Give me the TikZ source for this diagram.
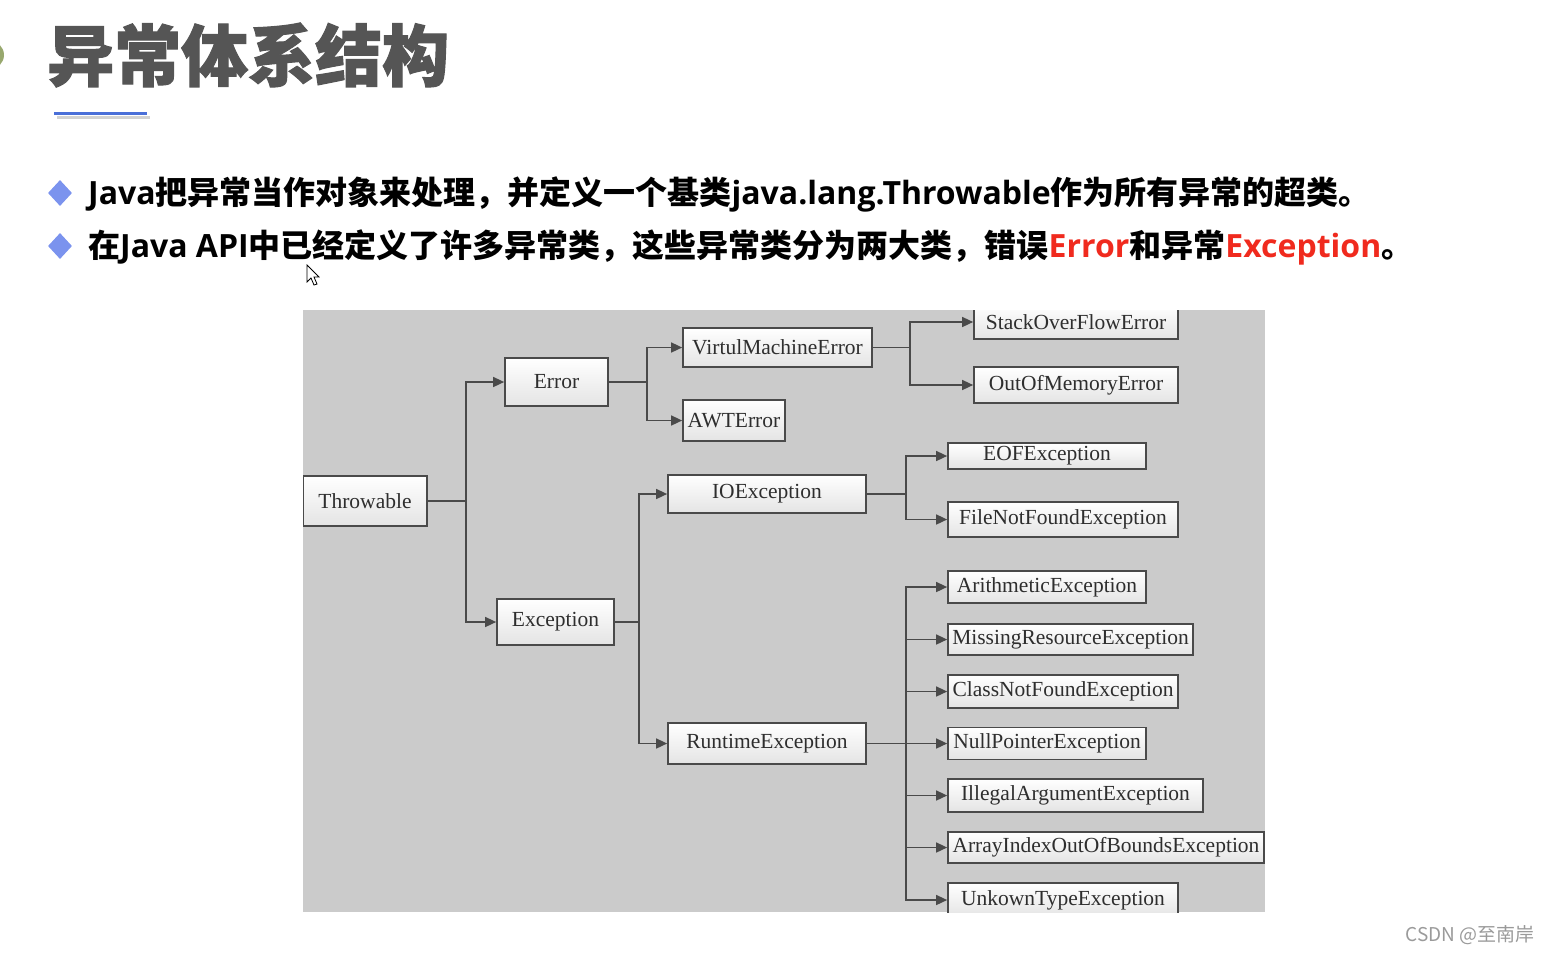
\documentclass[tikz,border=0pt]{standalone}
\usepackage{fontspec}
\setmainfont{Liberation Serif}
\newfontfamily\cjkfont{Noto Sans CJK SC}
\newfontfamily\cjkheavy{Noto Sans CJK SC}[FakeBold=1.5]
\newfontfamily\latfont{Open Sans}
\usetikzlibrary{arrows.meta,shapes.geometric}

\definecolor{titlegray}{HTML}{555555}
\definecolor{lineblue}{HTML}{4A6FD8}
\definecolor{bulletblue}{HTML}{7B93EE}
\definecolor{errred}{HTML}{F02A1E}
\definecolor{diagbg}{HTML}{CBCBCB}
\definecolor{linegray}{HTML}{4A4A4A}
\definecolor{textgray}{HTML}{2E2E2E}
\definecolor{boxbottom}{HTML}{E4E4E4}
\definecolor{leafgreen}{HTML}{98A86E}
\definecolor{markgray}{HTML}{9A9A9A}

\newcommand{\zhtxt}[1]{{\cjkfont\bfseries #1}}
\newcommand{\entxt}[1]{{\latfont\bfseries #1}}

\tikzset{
  cls/.style={draw=linegray, line width=1.7pt, top color=white, bottom color=boxbottom,
    text=textgray, inner sep=0pt, font=\fontsize{21.5}{24}\selectfont},
  link/.style={draw=linegray, line width=1.5pt},
  arr/.style={link, -{Triangle[length=11pt,width=10pt]}},
  bullet/.style={diamond, fill=bulletblue, minimum width=24pt, minimum height=26pt, inner sep=0pt},
  bulletline/.style={anchor=west, inner sep=0pt, font=\fontsize{32}{36}\selectfont},
}

\begin{document}
\begin{tikzpicture}[x=1pt, y=-1pt]
	\useasboundingbox (0,0) rectangle (1549,954);

	% heading
	\fill[leafgreen] (-10,55) circle (14);
	\node[anchor=west, inner sep=0pt, text=titlegray,
		font=\cjkheavy\bfseries\fontsize{67}{72}\selectfont] (title) at (47,55) {异常体系结构};
	\draw[gray!35, line width=3pt] (57,117) -- (150,117);
	\draw[lineblue, line width=3pt] (54,113) -- (147,113);

	% bullets
	\node[bullet] (b1) at (60,193) {};
	\node[bulletline] (line1) at (88,194) {\entxt{Java}\zhtxt{把异常当作对象来处理，并定义一个基类}\entxt{java.lang.Throwable}\zhtxt{作为所有异常的超类。}};
	\node[bullet] (b2) at (60,246) {};
	\node[bulletline] (line2) at (88,247) {\zhtxt{在}\entxt{Java API}\zhtxt{中已经定义了许多异常类，这些异常类分为两大类，错误}\entxt{\color{errred}Error}\zhtxt{和异常}\entxt{\color{errred}Exception}\zhtxt{。}};

	% mouse pointer
	\draw[black, fill=white, line width=0.8pt] (307,265) -- (307,282) -- (311,278) -- (314,285)
		-- (317,284) -- (314,277) -- (319,277) -- cycle;

	% class tree
	\fill[diagbg] (303,310) rectangle (1265,912);
	\begin{scope}
		\clip (303,310) rectangle (1265,912);

		\node[cls, minimum width=124, minimum height=50] (throwable) at (365,501) {Throwable};
		\node[cls, minimum width=103, minimum height=48] (error) at (556.5,382) {Error};
		\node[cls, minimum width=117, minimum height=46] (exception) at (555.5,622) {Exception};

		% Error
		\node[cls, minimum width=189, minimum height=39] (vme) at (777.5,347.5) {VirtulMachineError};
		\node[cls, minimum width=102, minimum height=41] (awt) at (734,420.5) {AWTError};
		\node[cls, minimum width=204, minimum height=34] (sof) at (1076,322) {StackOverFlowError};
		\node[cls, minimum width=204, minimum height=36] (oom) at (1076,385) {OutOfMemoryError};

		% Exception
		\node[cls, minimum width=198, minimum height=38] (ioe) at (767,494) {IOException};
		\node[cls, minimum width=198, minimum height=26] (eof) at (1047,456) {EOFException};
		\node[cls, minimum width=230, minimum height=35] (fnf) at (1063,519.5) {FileNotFoundException};
		\node[cls, minimum width=198, minimum height=41] (rte) at (767,743.5) {RuntimeException};

		% RuntimeException
		\node[cls, minimum width=198, minimum height=32] (arith) at (1047,587) {ArithmeticException};
		\node[cls, minimum width=245, minimum height=31] (missing) at (1070.5,639.5) {MissingResourceException};
		\node[cls, minimum width=230, minimum height=33] (cnf) at (1063,691.5) {ClassNotFoundException};
		\node[cls, minimum width=198, minimum height=32] (npe) at (1047,743.5) {NullPointerException};
		\node[cls, minimum width=255, minimum height=33] (iae) at (1075.5,795.5) {IllegalArgumentException};
		\node[cls, minimum width=316, minimum height=31] (aioobe) at (1106,847.5) {ArrayIndexOutOfBoundsException};
		\node[cls, minimum width=230, minimum height=34] (unknown) at (1063,900) {UnkownTypeException};

		\draw[link] (throwable.east) -- ++(38,0) coordinate (tj);
		\draw[arr] (tj) |- (error.west);
		\draw[arr] (tj) |- (exception.west);

		\draw[link] (error.east) -- ++(38,0) coordinate (ej);
		\draw[arr] (ej) |- (vme.west);
		\draw[arr] (ej) |- (awt.west);

		\draw[link] (vme.east) -- ++(37,0) coordinate (vj);
		\draw[arr] (vj) |- (sof.west);
		\draw[arr] (vj) |- (oom.west);

		\draw[link] (exception.east) -- ++(24,0) coordinate (xj);
		\draw[arr] (xj) |- (ioe.west);
		\draw[arr] (xj) |- (rte.west);

		\draw[link] (ioe.east) -- ++(39,0) coordinate (ij);
		\draw[arr] (ij) |- (eof.west);
		\draw[arr] (ij) |- (fnf.west);

		\draw[link] (rte.east) -- ++(39,0) coordinate (rj);
		\foreach \n in {arith,missing,cnf,npe,iae,aioobe,unknown}
			\draw[arr] (rj) |- (\n.west);
	\end{scope}

	% watermark
	\node[anchor=east, inner sep=0pt, text=markgray, font=\cjkfont\fontsize{19}{21}\selectfont] (mark) at (1535,935) {CSDN @至南岸};
\end{tikzpicture}
\end{document}
